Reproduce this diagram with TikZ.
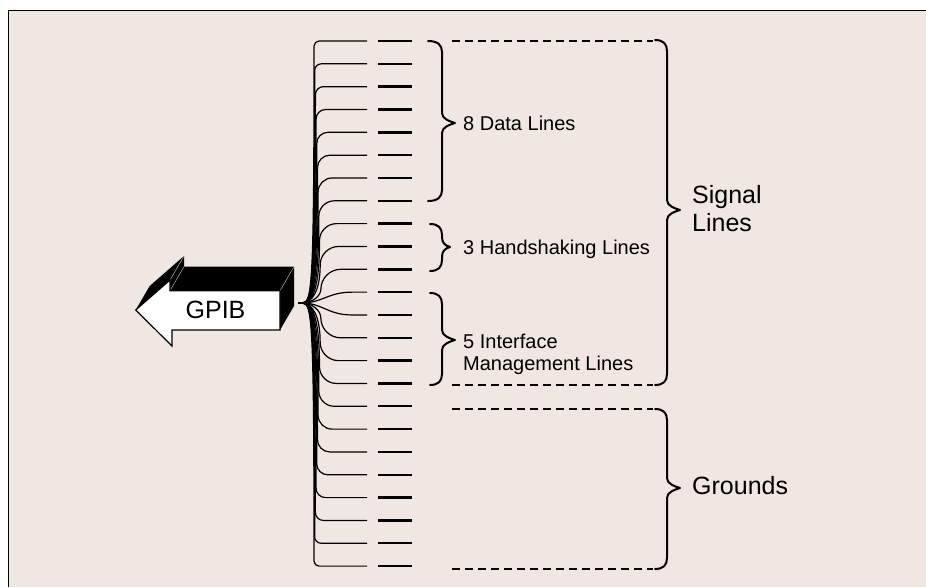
\documentclass[tikz,border=0pt]{standalone}
\usepackage{fontspec}
\setmainfont{Liberation Sans}
\definecolor{bg}{RGB}{240,231,226}
\newcommand\gbrace[6]{%
 \draw[brc] (#1,#2) .. controls ({#1+0.7*#5},#2) and ({#1+#5},{#2+4}) .. ({#1+#5},{#2+11})
  -- ({#1+#5},{#4-10}) .. controls ({#1+#5},{#4-4}) and ({#1+#6-5},{#4-1.5}) .. ({#1+#6},#4)
  .. controls ({#1+#6-5},{#4+1.5}) and ({#1+#5},{#4+4}) .. ({#1+#5},{#4+10})
  -- ({#1+#5},{#3-11}) .. controls ({#1+#5},{#3-4}) and ({#1+0.7*#5},#3) .. (#1,#3);}
\begin{document}
\begin{tikzpicture}[x=1pt,y=-1pt,
  fan/.style={line width=1.2pt, black},
  stub/.style={line width=2.4pt},
  brc/.style={line width=2pt, line join=round, line cap=round},
  dsh/.style={line width=2.2pt, dash pattern=on 7.5pt off 5.5pt},
  lbl/.style={font=\fontsize{20}{22}\selectfont, inner sep=0pt, anchor=base west},
  big/.style={font=\fontsize{25}{28}\selectfont, inner sep=0pt, anchor=base west}]
\useasboundingbox (0,0) rectangle (926,587);
\fill[white] (0,0) rectangle (926,587);
\fill[bg] (8.5,10.5) rectangle (926,587);
\draw[line width=1.5pt] (8.5,587) -- (8.5,10.5) -- (926,10.5);
% GPIB arrow
\fill[black] (135.7,310) -- (149.7,286) -- (184,256) -- (184,266.7) -- (294,266.7) -- (294,306) -- (280,330) -- (280,290.7) -- (170,290.7) -- (170,280) -- cycle;
\draw[gray!60, line width=0.5pt] (170,280)--(184,256) (170,290.7)--(184,266.7) (280,290.7)--(294,266.7);
\filldraw[fill=white, draw=black, line width=1.2pt] (135.7,310) -- (170,280) -- (170,290.7) -- (280,290.7) -- (280,330) -- (172,330) -- (172,346) -- cycle;
\node[font=\fontsize{25}{28}\selectfont, inner sep=0pt, anchor=base] (gp) at (215.5,318.3) {GPIB};
% fan
\coordinate (C) at (302,303);
\coordinate (C0) at (298,303);
\draw[line width=2pt] (C0) -- (C);
\foreach \i in {0,...,23}{
  \pgfmathsetmacro\yy{41+22.83*\i}
  \coordinate (e\i) at (367,\yy);
  \coordinate (s\i) at (378,\yy);
  \coordinate (t\i) at (412,\yy);
  \draw[stub] (s\i) -- (t\i);
  \pgfmathsetmacro\dd{abs(\yy-303)}
  \pgfmathsetmacro\sg{sign(\yy-303)}
  \ifdim\dd pt>20pt
    \pgfmathsetmacro\rr{5+(263-\dd)*0.065}
    \pgfmathsetmacro\xv{314+(263-\dd)*0.03}
    \pgfmathsetmacro\ha{min(12,(\dd-\rr)/2)}
    \draw[fan] (C) .. controls (312,303) and (\xv,{303+\sg*\ha}) .. (\xv,{\yy-\sg*\rr}) .. controls (\xv,{\yy-\sg*0.45*\rr}) and ({\xv+0.45*\rr},\yy) .. ({\xv+\rr},\yy) -- (e\i);
  \else
    \draw[fan] (C) .. controls (322,303) and (328,\yy) .. (352,\yy) -- (e\i);
  \fi
}
% braces
\gbrace{428}{41}{201}{123}{14}{27}
\gbrace{430}{224}{271}{247}{12}{20}
\gbrace{430}{293}{385}{340}{12}{25}
\gbrace{655}{40}{385}{210}{12}{25}
\gbrace{655}{409}{569}{488}{12}{25}
% dashed
\draw[dsh] (452,41) -- (653,41);
\draw[dsh] (452,385) -- (653,385);
\draw[dsh] (452,409) -- (653,409);
\draw[dsh] (452,569) -- (653,569);
% labels
\node[lbl] (dl) at (463,130) {8 Data Lines};
\node[lbl] (hl) at (463,254) {3 Handshaking Lines};
\node[lbl] (ia) at (463,348) {5 Interface};
\node[lbl] (ib) at (463,370) {Management Lines};
\node[big] (sa) at (692,203) {Signal};
\node[big] (sb) at (692,231) {Lines};
\node[big] (gr) at (692,494) {Grounds};
\end{tikzpicture}
\end{document}
